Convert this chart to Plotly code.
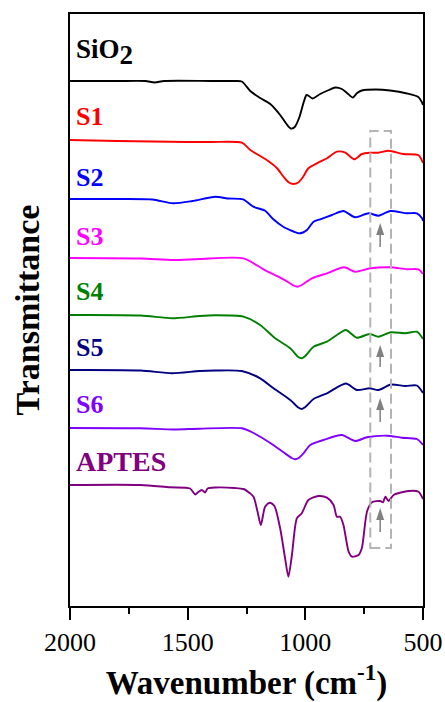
import plotly.graph_objects as go

# ---------------- FTIR spectra (relative transmittance, a.u.) ----------------
SIO2_WN = [2000, 1800, 1680, 1640, 1600, 1400, 1300, 1270, 1234, 1192, 1149, 1107, 1080, 1062, 1045, 1025,
           1008, 995, 985, 970, 937, 900, 873, 845, 823, 798, 780, 760, 700, 640, 568, 520, 505, 500]
SIO2_T = [0, 0, 0, -1.5, 0, 0, 0, -0.5, -10, -17, -23, -34, -43, -47.5, -46, -36,
          -22, -14, -15, -17.5, -13, -9, -6.5, -8, -12, -16.5, -12, -9.5, -8.5, -9.5, -12.5, -16, -21, -24]

S1_WN = [2000, 1800, 1650, 1500, 1400, 1270, 1234, 1164, 1121, 1095, 1070, 1050, 1030, 1010, 987, 951,
         908, 866, 830, 792, 760, 724, 690, 646, 584, 519, 500]
S1_T = [0, -1, -1.5, -2, -2, -2.7, -10, -20, -28, -36, -42.5, -44, -42.5, -37, -28.3, -23.3,
        -18.3, -11.7, -12.7, -19.3, -14, -12.7, -12.7, -10.7, -14, -15.3, -23]

S2_WN = [2000, 1800, 1650, 1562, 1480, 1383, 1330, 1264, 1221, 1171, 1136, 1094, 1050, 1029, 1010, 993,
         965, 937, 887, 838, 788, 731, 689, 639, 568, 526, 504, 500]
S2_T = [0, 0, -0.5, -4.3, -2, 2.3, 0.5, -0.3, -7.7, -11.7, -20.3, -27.7, -32.5, -34.3, -33.5, -31,
        -22.7, -20.3, -16, -12, -18.3, -14.3, -16.7, -12, -14.3, -14.3, -19.3, -22]

S3_WN = [2000, 1700, 1560, 1450, 1263, 1178, 1093, 1050, 1033, 1015, 972, 908, 835, 788, 724, 639,
         568, 519, 500]
S3_T = [0, -0.5, -2, -1, -0.3, -11.3, -21.3, -27.5, -28.7, -27, -20.3, -15.3, -9.3, -13.7, -10.3, -9.3,
        -11.3, -11.3, -16]

S4_WN = [2000, 1700, 1566, 1450, 1383, 1263, 1192, 1128, 1064, 1030, 1015, 1000, 965, 908, 866, 828,
         781, 727, 689, 636, 575, 526, 500]
S4_T = [0, -0.5, -3.3, -1, -0.3, -1.7, -10, -23.3, -33.3, -42, -43.3, -41, -31.7, -26.7, -20, -15,
        -22.7, -19, -21.7, -17.3, -18.3, -16.7, -24]

S5_WN = [2000, 1700, 1566, 1450, 1383, 1270, 1192, 1135, 1064, 1030, 1015, 1000, 965, 908, 828, 781,
         727, 689, 636, 575, 526, 500]
S5_T = [0, -0.5, -3.3, -1, -0.5, -1, -8.3, -18.3, -30, -37.5, -39, -37, -29, -23.3, -13.5, -20,
        -18.3, -20, -14.5, -16, -15.5, -23]

S6_WN = [2000, 1700, 1560, 1450, 1270, 1220, 1149, 1093, 1058, 1043, 1028, 1008, 979, 923, 845, 788,
         738, 653, 590, 526, 500]
S6_T = [0, -0.3, -1.5, -0.7, -0.3, -5, -15, -24.3, -30, -31.3, -30, -25.3, -17, -12, -7, -13,
        -9.3, -7.7, -9.7, -11, -17]

APTES_WN = [2000, 1700, 1575, 1490, 1468, 1455, 1440, 1426, 1415, 1380, 1300, 1263, 1234, 1220, 1203,
            1189, 1171, 1152, 1132, 1107, 1086, 1072, 1057, 1036, 1015, 987, 944, 908, 880, 866, 852,
            838, 816, 802, 774, 760, 738, 717, 682, 670, 660, 646, 625, 561, 519, 500]
APTES_T = [0, 0, -2.3, -3.5, -9.5, -7, -5, -7.5, -3.5, -2.5, -3, -4, -8.5, -11.7, -26.7,
           -40, -21.7, -17.7, -20.7, -43.3, -73.3, -91.7, -70, -33.3, -28.3, -15, -11, -12.7, -20, -31.7, -31.7,
           -40, -66.7, -71.7, -70, -63.3, -26.7, -17.3, -16, -17.3, -11.7, -16, -10, -6, -6.7, -14]

SAMPLES = ["SiO<sub>2</sub>", "S1", "S2", "S3", "S4", "S5", "S6", "APTES"]

# ---------------- presentation ----------------
COLORS = ["#000000", "#FF0000", "#0000FF", "#FF00FF", "#008000", "#000080", "#8000FF", "#800080"]
OFFSETS = [525, 466, 407, 348, 291, 236, 178, 121]          # vertical stacking of spectra
LABEL_Y = [554, 490, 429, 370, 315, 259, 202, 145]
LABEL_SIZE = [27, 26, 26, 26, 26, 26, 26, 28]
SERIF = "Liberation Serif, Times New Roman, serif"

spectra = [(SIO2_WN, SIO2_T), (S1_WN, S1_T), (S2_WN, S2_T), (S3_WN, S3_T),
           (S4_WN, S4_T), (S5_WN, S5_T), (S6_WN, S6_T), (APTES_WN, APTES_T)]

fig = go.Figure()
for (wn, t), off, col, name in zip(spectra, OFFSETS, COLORS, SAMPLES):
    fig.add_trace(go.Scatter(
        x=wn, y=[v + off for v in t], mode="lines", name=name,
        line=dict(color=col, width=1.9, shape="spline", smoothing=0.7),
        showlegend=False, hoverinfo="skip"))

# sample labels
for name, y, col, size in zip(SAMPLES, LABEL_Y, COLORS, LABEL_SIZE):
    text = name
    if name.startswith("SiO"):
        text = 'SiO<sub><span style="font-size:27px">2</span></sub>'
    fig.add_annotation(x=0.012, xref="paper", y=y, yref="y", text=text, showarrow=False,
                       xanchor="left", yanchor="middle",
                       font=dict(family=SERIF, size=size, color=col, weight="bold"))

# dashed region around the 690 cm-1 band
fig.add_shape(type="rect", xref="x", yref="y", x0=724, x1=636, y0=58, y1=475,
              line=dict(color="#B4B4B4", width=2, dash="10px,5px"), fillcolor="rgba(0,0,0,0)")

# arrows marking the band (tail line + narrow head)
ARROW_X = 682
ARROWS = [(359, 383), (239, 261), (184, 208), (74, 98)]
for y0, y1 in ARROWS:
    fig.add_shape(type="line", xref="x", yref="y", x0=ARROW_X, x1=ARROW_X, y0=y0, y1=y1 - 8,
                  line=dict(color="#808080", width=1.5))
    fig.add_shape(type="path", xref="x", yref="y", xsizemode="pixel", ysizemode="pixel",
                  xanchor=ARROW_X, yanchor=y1,
                  path="M0,0 L-4,-12 L4,-12 Z", fillcolor="#808080", line=dict(width=0))

fig.update_layout(
    width=445, height=702,
    margin=dict(l=70, r=22, t=14, b=96),
    paper_bgcolor="white", plot_bgcolor="white",
    font=dict(family=SERIF, color="black"),
    xaxis=dict(
        range=[2000, 500], autorange=False, automargin=False,
        tickmode="linear", tick0=500, dtick=500,
        ticks="outside", ticklen=12, tickwidth=1.5, tickcolor="black",
        minor=dict(dtick=250, tick0=500, ticks="outside", ticklen=6, tickwidth=1.5, tickcolor="black"),
        showline=True, linewidth=1.5, linecolor="black", mirror=True,
        showgrid=False, zeroline=False,
        tickfont=dict(family=SERIF, size=26, color="black"),
        title=dict(text="Wavenumber (cm<sup>-1</sup>)", standoff=18,
                   font=dict(family=SERIF, size=33, color="black", weight="bold")),
    ),
    yaxis=dict(
        range=[0, 592], autorange=False, automargin=False,
        showline=True, linewidth=1.5, linecolor="black", mirror=True,
        showgrid=False, zeroline=False, ticks="", showticklabels=False,
        title=dict(text="Transmittance", standoff=18,
                   font=dict(family=SERIF, size=34, color="black", weight="bold")),
    ),
)

fig.write_html("out.html")
